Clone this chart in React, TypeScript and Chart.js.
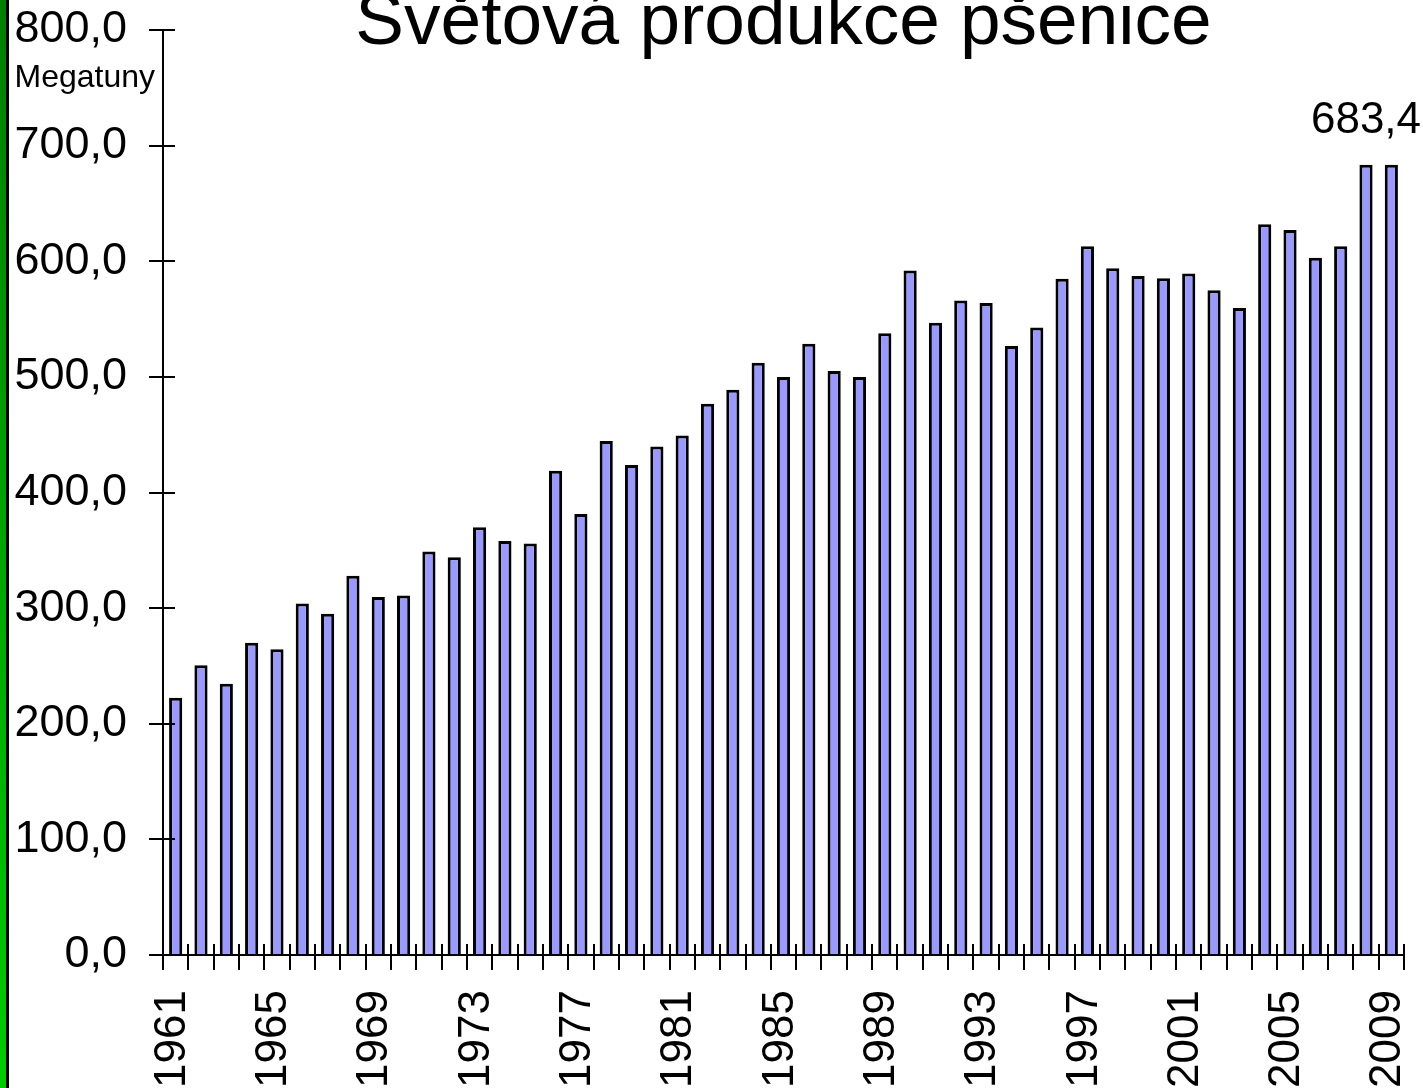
import React, { useEffect, useRef } from "react";
import { Chart, registerables } from "chart.js";

Chart.register(...registerables);

const years = [
  1961, 1962, 1963, 1964, 1965, 1966, 1967, 1968, 1969, 1970,
  1971, 1972, 1973, 1974, 1975, 1976, 1977, 1978, 1979, 1980,
  1981, 1982, 1983, 1984, 1985, 1986, 1987, 1988, 1989, 1990,
  1991, 1992, 1993, 1994, 1995, 1996, 1997, 1998, 1999, 2000,
  2001, 2002, 2003, 2004, 2005, 2006, 2007, 2008, 2009,
];

const production = [
  222.4, 250.7, 234.5, 270.0, 264.5, 304.0, 295.1, 327.9, 309.6, 311.0,
  348.9, 344.0, 369.9, 358.0, 355.8, 418.8, 381.5, 444.5, 423.8, 439.8,
  449.2, 476.8, 488.8, 512.2, 499.8, 528.6, 505.0, 500.0, 537.8, 592.0,
  546.8, 566.0, 564.0, 526.6, 542.6, 584.8, 613.0, 594.0, 587.2, 585.2,
  589.4, 575.0, 559.5, 632.0, 627.0, 603.0, 613.0, 683.4, 683.4,
];

const yMin = 0;
const yMax = 800;
const yStep = 100;
const labelEvery = 4;
const highlightYear = 2008;
const titleText = "Světová produkce pšenice";
const unitLabel = "Megatuny";

const FONT = "'Liberation Sans', Arial, Helvetica, sans-serif";

const fmt = (v: number) => v.toFixed(1).replace(".", ",");

const zeroPad = (s: any) => {
  s.paddingTop = 0;
  s.paddingBottom = 0;
  s.paddingLeft = 0;
  s.paddingRight = 0;
};

const decorPlugin = {
  id: "decor",
  afterDatasetsDraw(chart: any) {
    const { ctx, chartArea, scales } = chart;
    const xs = scales.x;
    const ys = scales.y;
    ctx.save();
    ctx.strokeStyle = "#000";
    ctx.lineWidth = 2;
    ctx.beginPath();
    for (let i = 1; i <= years.length; i++) {
      const px = Math.round(xs.getPixelForValue(i - 0.5));
      ctx.moveTo(px, chartArea.bottom);
      ctx.lineTo(px, chartArea.bottom - 11);
    }
    for (const t of ys.ticks) {
      const py = Math.round(ys.getPixelForValue(t.value));
      ctx.moveTo(chartArea.left, py);
      ctx.lineTo(chartArea.left + 12, py);
    }
    ctx.stroke();

    const idx = years.indexOf(highlightYear);
    const meta = chart.getDatasetMeta(0);
    const el = meta.data[idx];
    if (el) {
      ctx.fillStyle = "#000";
      ctx.font = `44px ${FONT}`;
      ctx.textAlign = "center";
      ctx.textBaseline = "alphabetic";
      ctx.fillText(fmt(production[idx]), el.x, el.y - 32);
    }

    ctx.fillStyle = "#000";
    ctx.font = `73px ${FONT}`;
    ctx.textAlign = "center";
    ctx.textBaseline = "alphabetic";
    ctx.fillText(titleText, (chartArea.left + chartArea.right) / 2, 44);

    ctx.font = `32px ${FONT}`;
    ctx.textAlign = "right";
    ctx.fillText(unitLabel, 155, 87);
    ctx.restore();
  },
};

export default function App() {
  const ref = useRef<HTMLCanvasElement | null>(null);

  useEffect(() => {
    if (!ref.current) return;
    const chart = new Chart(ref.current, {
      type: "bar",
      data: {
        labels: years.map(String),
        datasets: [
          {
            data: production,
            backgroundColor: "#9999FF",
            borderColor: "#000000",
            borderWidth: 3,
            barPercentage: 0.52,
            categoryPercentage: 1,
          },
        ],
      },
      options: {
        animation: false,
        responsive: false,
        devicePixelRatio: 1,
        layout: { padding: { top: 30, right: 19, left: 0, bottom: 0 } },
        plugins: {
          legend: { display: false },
          tooltip: { enabled: false },
          title: { display: false },
        },
        scales: {
          x: {
            offset: true,
            ticks: {
              autoSkip: false,
              minRotation: 90,
              maxRotation: 90,
              padding: 20,
              labelOffset: -3,
              color: "#000",
              font: { size: 44, family: FONT },
              callback: (_v: any, i: number) =>
                (years[i] - years[0]) % labelEvery === 0 ? String(years[i]) : "",
            },
            grid: {
              offset: true,
              drawOnChartArea: false,
              color: "#000",
              lineWidth: 2,
              tickLength: 15,
            },
            border: { color: "#000", width: 2 },
            afterFit: (s: any) => {
              s.height = 133;
              zeroPad(s);
            },
          },
          y: {
            min: yMin,
            max: yMax,
            ticks: {
              stepSize: yStep,
              padding: 22,
              color: "#000",
              font: { size: 45, family: FONT },
              callback: (v: any) => fmt(Number(v)),
            },
            grid: {
              drawOnChartArea: false,
              color: "#000",
              lineWidth: 2,
              tickLength: 14,
            },
            border: { color: "#000", width: 2 },
            afterFit: (s: any) => {
              s.width = 163;
              zeroPad(s);
            },
          },
        },
      },
      plugins: [decorPlugin],
    });
    return () => chart.destroy();
  }, []);

  return (
    <div
      style={{
        position: "absolute",
        left: 0,
        top: 0,
        width: 1423,
        height: 1088,
        background: "#ffffff",
        overflow: "hidden",
      }}
    >
      <canvas
        ref={ref}
        width={1423}
        height={1088}
        style={{ position: "absolute", left: 0, top: 0 }}
      />
      <div
        style={{
          position: "absolute",
          left: 0,
          top: 0,
          width: 6,
          height: 1088,
          background: "linear-gradient(to bottom, #007f00, #00cc00)",
          borderRight: "3px solid #000",
        }}
      />
    </div>
  );
}
